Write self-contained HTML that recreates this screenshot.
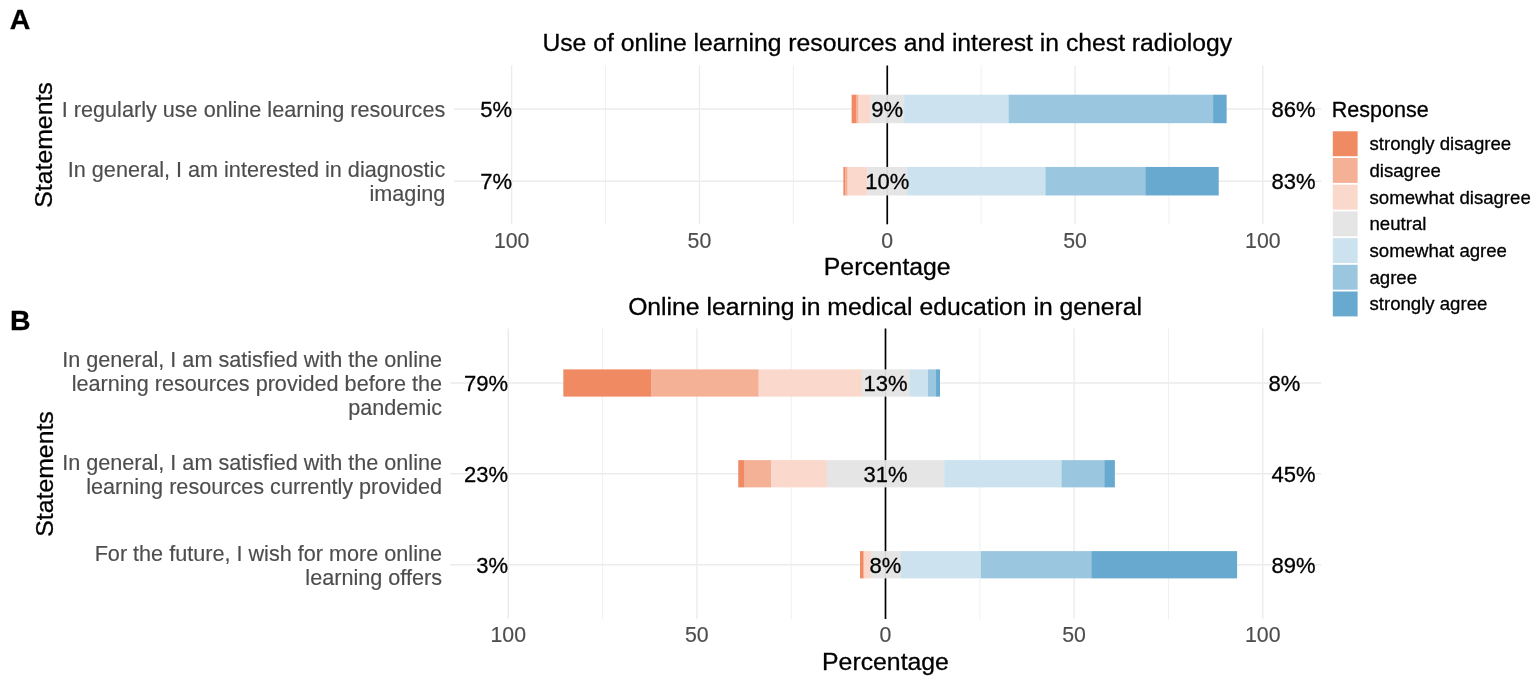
<!DOCTYPE html>
<html lang="en">
<head>
<meta charset="utf-8">
<title>Likert chart: online learning survey</title>
<style>
html,body{margin:0;padding:0;background:#fff;}
body{width:1535px;height:680px;overflow:hidden;font-family:"Liberation Sans", sans-serif;}
svg{display:block;}
svg text{white-space:pre;}
</style>
</head>
<body>
<svg role="img" aria-label="Diverging stacked bar charts of survey responses" width="1535" height="680" viewBox="0 0 1535 680" font-family='"Liberation Sans", sans-serif'>
<rect width="1535" height="680" fill="#fff"/>
<line x1="605.55" y1="65.50" x2="605.55" y2="224.30" stroke="#EBEBEB" stroke-width="0.8"/>
<line x1="793.35" y1="65.50" x2="793.35" y2="224.30" stroke="#EBEBEB" stroke-width="0.8"/>
<line x1="981.15" y1="65.50" x2="981.15" y2="224.30" stroke="#EBEBEB" stroke-width="0.8"/>
<line x1="1168.95" y1="65.50" x2="1168.95" y2="224.30" stroke="#EBEBEB" stroke-width="0.8"/>
<line x1="511.65" y1="65.50" x2="511.65" y2="224.30" stroke="#EBEBEB" stroke-width="1.35"/>
<line x1="699.45" y1="65.50" x2="699.45" y2="224.30" stroke="#EBEBEB" stroke-width="1.35"/>
<line x1="1075.05" y1="65.50" x2="1075.05" y2="224.30" stroke="#EBEBEB" stroke-width="1.35"/>
<line x1="1262.85" y1="65.50" x2="1262.85" y2="224.30" stroke="#EBEBEB" stroke-width="1.35"/>
<line x1="454.00" y1="108.95" x2="1321.25" y2="108.95" stroke="#EBEBEB" stroke-width="1.35"/>
<line x1="454.00" y1="181.20" x2="1321.25" y2="181.20" stroke="#EBEBEB" stroke-width="1.35"/>
<line x1="887.25" y1="65.50" x2="887.25" y2="224.30" stroke="#000" stroke-width="1.7"/>
<rect x="851.62" y="94.70" width="4.80" height="28.50" fill="#EF8A62"/>
<rect x="856.12" y="94.70" width="2.55" height="28.50" fill="#F4B196"/>
<rect x="858.38" y="94.70" width="12.30" height="28.50" fill="#FAD8CB"/>
<rect x="870.38" y="94.70" width="34.05" height="28.50" fill="#E5E5E5"/>
<rect x="904.12" y="94.70" width="104.92" height="28.50" fill="#CCE2EF"/>
<rect x="1008.75" y="94.70" width="204.67" height="28.50" fill="#9AC6DF"/>
<rect x="1213.12" y="94.70" width="13.50" height="28.50" fill="#67A9CF"/>
<rect x="843.38" y="166.95" width="2.17" height="28.50" fill="#EF8A62"/>
<rect x="845.25" y="166.95" width="2.55" height="28.50" fill="#F4B196"/>
<rect x="847.50" y="166.95" width="20.17" height="28.50" fill="#FAD8CB"/>
<rect x="867.38" y="166.95" width="40.05" height="28.50" fill="#E5E5E5"/>
<rect x="907.12" y="166.95" width="138.67" height="28.50" fill="#CCE2EF"/>
<rect x="1045.50" y="166.95" width="100.42" height="28.50" fill="#9AC6DF"/>
<rect x="1145.62" y="166.95" width="73.12" height="28.50" fill="#67A9CF"/>
<line x1="887.25" y1="94.70" x2="887.25" y2="123.20" stroke="#000" stroke-width="0.6" stroke-opacity="0.13"/>
<line x1="887.25" y1="166.95" x2="887.25" y2="195.45" stroke="#000" stroke-width="0.6" stroke-opacity="0.13"/>
<text x="512.00" y="116.95" font-size="22.0" fill="#000" stroke="#000" stroke-width="0.3" stroke-linejoin="round" text-anchor="end" font-weight="normal">5%</text>
<text x="887.25" y="116.95" font-size="22.0" fill="#000" stroke="#000" stroke-width="0.3" stroke-linejoin="round" text-anchor="middle" font-weight="normal">9%</text>
<text x="1271.50" y="116.95" font-size="22.0" fill="#000" stroke="#000" stroke-width="0.3" stroke-linejoin="round" text-anchor="start" font-weight="normal">86%</text>
<text x="512.00" y="189.20" font-size="22.0" fill="#000" stroke="#000" stroke-width="0.3" stroke-linejoin="round" text-anchor="end" font-weight="normal">7%</text>
<text x="887.25" y="189.20" font-size="22.0" fill="#000" stroke="#000" stroke-width="0.3" stroke-linejoin="round" text-anchor="middle" font-weight="normal">10%</text>
<text x="1271.50" y="189.20" font-size="22.0" fill="#000" stroke="#000" stroke-width="0.3" stroke-linejoin="round" text-anchor="start" font-weight="normal">83%</text>
<text x="445.25" y="116.50" font-size="21.63" fill="#4D4D4D" stroke="#4D4D4D" stroke-width="0.15" stroke-linejoin="round" text-anchor="end" font-weight="normal">I regularly use online learning resources</text>
<text x="445.25" y="177.00" font-size="21.63" fill="#4D4D4D" stroke="#4D4D4D" stroke-width="0.15" stroke-linejoin="round" text-anchor="end" font-weight="normal">In general, I am interested in diagnostic</text>
<text x="445.25" y="200.75" font-size="21.63" fill="#4D4D4D" stroke="#4D4D4D" stroke-width="0.15" stroke-linejoin="round" text-anchor="end" font-weight="normal">imaging</text>
<text x="511.65" y="247.70" font-size="21.3" fill="#4D4D4D" stroke="#4D4D4D" stroke-width="0.15" stroke-linejoin="round" text-anchor="middle" font-weight="normal">100</text>
<text x="699.45" y="247.70" font-size="21.3" fill="#4D4D4D" stroke="#4D4D4D" stroke-width="0.15" stroke-linejoin="round" text-anchor="middle" font-weight="normal">50</text>
<text x="887.25" y="247.70" font-size="21.3" fill="#4D4D4D" stroke="#4D4D4D" stroke-width="0.15" stroke-linejoin="round" text-anchor="middle" font-weight="normal">0</text>
<text x="1075.05" y="247.70" font-size="21.3" fill="#4D4D4D" stroke="#4D4D4D" stroke-width="0.15" stroke-linejoin="round" text-anchor="middle" font-weight="normal">50</text>
<text x="1262.85" y="247.70" font-size="21.3" fill="#4D4D4D" stroke="#4D4D4D" stroke-width="0.15" stroke-linejoin="round" text-anchor="middle" font-weight="normal">100</text>
<text x="887.25" y="274.80" font-size="24.8" fill="#000" stroke="#000" stroke-width="0.3" stroke-linejoin="round" text-anchor="middle" font-weight="normal">Percentage</text>
<text x="52.30" y="145.00" font-size="24.8" fill="#000" stroke="#000" stroke-width="0.3" stroke-linejoin="round" text-anchor="middle" font-weight="normal" transform="rotate(-90 52.30 145.00)">Statements</text>
<text x="887.30" y="51.00" font-size="24.72" fill="#000" stroke="#000" stroke-width="0.3" stroke-linejoin="round" text-anchor="middle" font-weight="normal">Use of online learning resources and interest in chest radiology</text>
<line x1="602.56" y1="328.50" x2="602.56" y2="619.00" stroke="#EBEBEB" stroke-width="0.8"/>
<line x1="791.19" y1="328.50" x2="791.19" y2="619.00" stroke="#EBEBEB" stroke-width="0.8"/>
<line x1="979.81" y1="328.50" x2="979.81" y2="619.00" stroke="#EBEBEB" stroke-width="0.8"/>
<line x1="1168.44" y1="328.50" x2="1168.44" y2="619.00" stroke="#EBEBEB" stroke-width="0.8"/>
<line x1="508.25" y1="328.50" x2="508.25" y2="619.00" stroke="#EBEBEB" stroke-width="1.35"/>
<line x1="696.88" y1="328.50" x2="696.88" y2="619.00" stroke="#EBEBEB" stroke-width="1.35"/>
<line x1="1074.12" y1="328.50" x2="1074.12" y2="619.00" stroke="#EBEBEB" stroke-width="1.35"/>
<line x1="1262.75" y1="328.50" x2="1262.75" y2="619.00" stroke="#EBEBEB" stroke-width="1.35"/>
<line x1="450.25" y1="383.00" x2="1321.25" y2="383.00" stroke="#EBEBEB" stroke-width="1.35"/>
<line x1="450.25" y1="473.75" x2="1321.25" y2="473.75" stroke="#EBEBEB" stroke-width="1.35"/>
<line x1="450.25" y1="564.75" x2="1321.25" y2="564.75" stroke="#EBEBEB" stroke-width="1.35"/>
<line x1="885.50" y1="328.50" x2="885.50" y2="619.00" stroke="#000" stroke-width="1.7"/>
<rect x="563.33" y="369.38" width="88.20" height="27.25" fill="#EF8A62"/>
<rect x="651.23" y="369.38" width="107.59" height="27.25" fill="#F4B196"/>
<rect x="758.52" y="369.38" width="103.40" height="27.25" fill="#FAD8CB"/>
<rect x="861.62" y="369.38" width="48.17" height="27.25" fill="#E5E5E5"/>
<rect x="909.49" y="369.38" width="18.82" height="27.25" fill="#CCE2EF"/>
<rect x="928.02" y="369.38" width="8.34" height="27.25" fill="#9AC6DF"/>
<rect x="936.05" y="369.38" width="3.96" height="27.25" fill="#67A9CF"/>
<rect x="738.26" y="460.12" width="6.45" height="27.25" fill="#EF8A62"/>
<rect x="744.41" y="460.12" width="26.90" height="27.25" fill="#F4B196"/>
<rect x="771.00" y="460.12" width="56.06" height="27.25" fill="#FAD8CB"/>
<rect x="826.76" y="460.12" width="117.78" height="27.25" fill="#E5E5E5"/>
<rect x="944.24" y="460.12" width="117.74" height="27.25" fill="#CCE2EF"/>
<rect x="1061.68" y="460.12" width="43.31" height="27.25" fill="#9AC6DF"/>
<rect x="1104.68" y="460.12" width="10.19" height="27.25" fill="#67A9CF"/>
<rect x="860.00" y="551.12" width="3.43" height="27.25" fill="#EF8A62"/>
<rect x="863.13" y="551.12" width="1.17" height="27.25" fill="#F4B196"/>
<rect x="864.00" y="551.12" width="6.94" height="27.25" fill="#FAD8CB"/>
<rect x="870.64" y="551.12" width="30.63" height="27.25" fill="#E5E5E5"/>
<rect x="900.97" y="551.12" width="80.28" height="27.25" fill="#CCE2EF"/>
<rect x="980.94" y="551.12" width="110.83" height="27.25" fill="#9AC6DF"/>
<rect x="1091.48" y="551.12" width="145.62" height="27.25" fill="#67A9CF"/>
<line x1="885.50" y1="369.38" x2="885.50" y2="396.62" stroke="#000" stroke-width="0.6" stroke-opacity="0.13"/>
<line x1="885.50" y1="460.12" x2="885.50" y2="487.38" stroke="#000" stroke-width="0.6" stroke-opacity="0.13"/>
<line x1="885.50" y1="551.12" x2="885.50" y2="578.38" stroke="#000" stroke-width="0.6" stroke-opacity="0.13"/>
<text x="508.00" y="391.00" font-size="22.0" fill="#000" stroke="#000" stroke-width="0.3" stroke-linejoin="round" text-anchor="end" font-weight="normal">79%</text>
<text x="885.50" y="391.00" font-size="22.0" fill="#000" stroke="#000" stroke-width="0.3" stroke-linejoin="round" text-anchor="middle" font-weight="normal">13%</text>
<text x="1268.50" y="391.00" font-size="22.0" fill="#000" stroke="#000" stroke-width="0.3" stroke-linejoin="round" text-anchor="start" font-weight="normal">8%</text>
<text x="508.00" y="481.75" font-size="22.0" fill="#000" stroke="#000" stroke-width="0.3" stroke-linejoin="round" text-anchor="end" font-weight="normal">23%</text>
<text x="885.50" y="481.75" font-size="22.0" fill="#000" stroke="#000" stroke-width="0.3" stroke-linejoin="round" text-anchor="middle" font-weight="normal">31%</text>
<text x="1271.50" y="481.75" font-size="22.0" fill="#000" stroke="#000" stroke-width="0.3" stroke-linejoin="round" text-anchor="start" font-weight="normal">45%</text>
<text x="508.00" y="572.75" font-size="22.0" fill="#000" stroke="#000" stroke-width="0.3" stroke-linejoin="round" text-anchor="end" font-weight="normal">3%</text>
<text x="885.50" y="572.75" font-size="22.0" fill="#000" stroke="#000" stroke-width="0.3" stroke-linejoin="round" text-anchor="middle" font-weight="normal">8%</text>
<text x="1271.50" y="572.75" font-size="22.0" fill="#000" stroke="#000" stroke-width="0.3" stroke-linejoin="round" text-anchor="start" font-weight="normal">89%</text>
<text x="442.00" y="367.00" font-size="21.63" fill="#4D4D4D" stroke="#4D4D4D" stroke-width="0.15" stroke-linejoin="round" text-anchor="end" font-weight="normal">In general, I am satisfied with the online</text>
<text x="442.00" y="390.75" font-size="21.63" fill="#4D4D4D" stroke="#4D4D4D" stroke-width="0.15" stroke-linejoin="round" text-anchor="end" font-weight="normal">learning resources provided before the</text>
<text x="442.00" y="414.50" font-size="21.63" fill="#4D4D4D" stroke="#4D4D4D" stroke-width="0.15" stroke-linejoin="round" text-anchor="end" font-weight="normal">pandemic</text>
<text x="442.00" y="470.00" font-size="21.63" fill="#4D4D4D" stroke="#4D4D4D" stroke-width="0.15" stroke-linejoin="round" text-anchor="end" font-weight="normal">In general, I am satisfied with the online</text>
<text x="442.00" y="493.75" font-size="21.63" fill="#4D4D4D" stroke="#4D4D4D" stroke-width="0.15" stroke-linejoin="round" text-anchor="end" font-weight="normal">learning resources currently provided</text>
<text x="442.00" y="561.00" font-size="21.63" fill="#4D4D4D" stroke="#4D4D4D" stroke-width="0.15" stroke-linejoin="round" text-anchor="end" font-weight="normal">For the future, I wish for more online</text>
<text x="442.00" y="584.75" font-size="21.63" fill="#4D4D4D" stroke="#4D4D4D" stroke-width="0.15" stroke-linejoin="round" text-anchor="end" font-weight="normal">learning offers</text>
<text x="508.25" y="642.40" font-size="21.3" fill="#4D4D4D" stroke="#4D4D4D" stroke-width="0.15" stroke-linejoin="round" text-anchor="middle" font-weight="normal">100</text>
<text x="696.88" y="642.40" font-size="21.3" fill="#4D4D4D" stroke="#4D4D4D" stroke-width="0.15" stroke-linejoin="round" text-anchor="middle" font-weight="normal">50</text>
<text x="885.50" y="642.40" font-size="21.3" fill="#4D4D4D" stroke="#4D4D4D" stroke-width="0.15" stroke-linejoin="round" text-anchor="middle" font-weight="normal">0</text>
<text x="1074.12" y="642.40" font-size="21.3" fill="#4D4D4D" stroke="#4D4D4D" stroke-width="0.15" stroke-linejoin="round" text-anchor="middle" font-weight="normal">50</text>
<text x="1262.75" y="642.40" font-size="21.3" fill="#4D4D4D" stroke="#4D4D4D" stroke-width="0.15" stroke-linejoin="round" text-anchor="middle" font-weight="normal">100</text>
<text x="885.50" y="669.50" font-size="24.8" fill="#000" stroke="#000" stroke-width="0.3" stroke-linejoin="round" text-anchor="middle" font-weight="normal">Percentage</text>
<text x="52.60" y="474.00" font-size="24.8" fill="#000" stroke="#000" stroke-width="0.3" stroke-linejoin="round" text-anchor="middle" font-weight="normal" transform="rotate(-90 52.60 474.00)">Statements</text>
<text x="885.10" y="315.00" font-size="24.72" fill="#000" stroke="#000" stroke-width="0.3" stroke-linejoin="round" text-anchor="middle" font-weight="normal">Online learning in medical education in general</text>
<text x="9.65" y="29.40" font-size="28.5" fill="#000" stroke="#000" stroke-width="0.3" stroke-linejoin="round" text-anchor="start" font-weight="bold">A</text>
<text x="10.00" y="330.20" font-size="28.5" fill="#000" stroke="#000" stroke-width="0.3" stroke-linejoin="round" text-anchor="start" font-weight="bold">B</text>
<text x="1331.80" y="116.75" font-size="21.5" fill="#000" stroke="#000" stroke-width="0.3" stroke-linejoin="round" text-anchor="start" font-weight="normal">Response</text>
<rect x="1332.80" y="131.30" width="24.80" height="24.90" fill="#EF8A62"/>
<text x="1369.50" y="150.35" font-size="18.6" fill="#000" stroke="#000" stroke-width="0.3" stroke-linejoin="round" text-anchor="start" font-weight="normal">strongly disagree</text>
<rect x="1332.80" y="158.00" width="24.80" height="24.90" fill="#F4B196"/>
<text x="1369.50" y="177.02" font-size="18.6" fill="#000" stroke="#000" stroke-width="0.3" stroke-linejoin="round" text-anchor="start" font-weight="normal">disagree</text>
<rect x="1332.80" y="184.70" width="24.80" height="24.90" fill="#FAD8CB"/>
<text x="1369.50" y="203.69" font-size="18.6" fill="#000" stroke="#000" stroke-width="0.3" stroke-linejoin="round" text-anchor="start" font-weight="normal">somewhat disagree</text>
<rect x="1332.80" y="211.40" width="24.80" height="24.90" fill="#E5E5E5"/>
<text x="1369.50" y="230.36" font-size="18.6" fill="#000" stroke="#000" stroke-width="0.3" stroke-linejoin="round" text-anchor="start" font-weight="normal">neutral</text>
<rect x="1332.80" y="238.10" width="24.80" height="24.90" fill="#CCE2EF"/>
<text x="1369.50" y="257.03" font-size="18.6" fill="#000" stroke="#000" stroke-width="0.3" stroke-linejoin="round" text-anchor="start" font-weight="normal">somewhat agree</text>
<rect x="1332.80" y="264.80" width="24.80" height="24.90" fill="#9AC6DF"/>
<text x="1369.50" y="283.70" font-size="18.6" fill="#000" stroke="#000" stroke-width="0.3" stroke-linejoin="round" text-anchor="start" font-weight="normal">agree</text>
<rect x="1332.80" y="291.50" width="24.80" height="24.90" fill="#67A9CF"/>
<text x="1369.50" y="310.37" font-size="18.6" fill="#000" stroke="#000" stroke-width="0.3" stroke-linejoin="round" text-anchor="start" font-weight="normal">strongly agree</text>
</svg>
</body>
</html>
